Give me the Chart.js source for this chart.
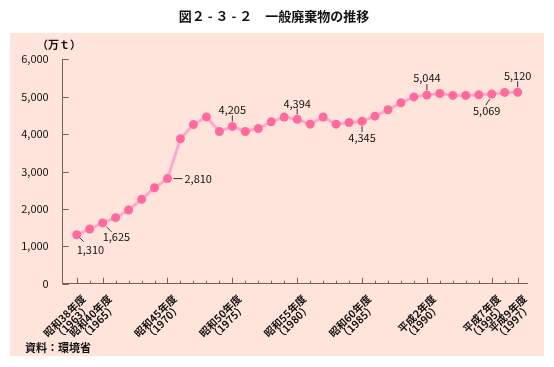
<!DOCTYPE html>
<html lang="ja">
<head>
<meta charset="utf-8">
<script src="https://cdn.jsdelivr.net/npm/chart.js@4.4.1/dist/chart.umd.min.js"></script>
<style>
  html, body { margin: 0; padding: 0; background: #ffffff; }
  #wrap { width: 554px; height: 367px; position: relative; }
</style>
</head>
<body>
<div id="wrap"><canvas id="chart"></canvas></div>
<script>
// 年度 (1963〜1997)
const years = [
  1963, 1964, 1965, 1966, 1967, 1968, 1969, 1970, 1971, 1972, 1973, 1974,
  1975, 1976, 1977, 1978, 1979, 1980, 1981, 1982, 1983, 1984, 1985, 1986,
  1987, 1988, 1989, 1990, 1991, 1992, 1993, 1994, 1995, 1996, 1997
];
// 一般廃棄物排出量 (万t)
const wasteValues = [
  1310, 1460, 1625, 1765, 1970, 2255, 2565, 2810, 3875, 4255, 4460, 4070,
  4205, 4070, 4150, 4330, 4455, 4394, 4265, 4455, 4265, 4310, 4345, 4480,
  4650, 4835, 4995, 5044, 5085, 5035, 5035, 5050, 5069, 5115, 5120
];
// x軸ラベル
const labelYears = [1963, 1965, 1970, 1975, 1980, 1985, 1990, 1995, 1997];
const eraLabels = ['昭和38年度', '昭和40年度', '昭和45年度', '昭和50年度', '昭和55年度',
  '昭和60年度', '平成2年度', '平成7年度', '平成9年度'];
// y軸目盛
const yTicks = [0, 1000, 2000, 3000, 4000, 5000, 6000];
// 数値を表示する年度
const calloutYears = [1963, 1965, 1970, 1975, 1980, 1985, 1990, 1995, 1997];

const FONT = '"Noto Sans CJK JP", "Noto Sans", sans-serif';
const AXIS_COLOR = '#6a6460';

// 吹き出しの位置 (点からの相対位置)
const calloutPlacement = {
  1963: { line: [3, 3, 7, 7], text: [0, 15], align: 'left' },
  1965: { line: [4, 4, 9, 9], text: [0, 14], align: 'left' },
  1970: { line: [6, 0, 15, 0], text: [17, 0], align: 'left' },
  1975: { line: [0, -5, 0, -11], text: [0, -17], align: 'center' },
  1980: { line: [0, -5, 0, -11], text: [0, -16], align: 'center' },
  1985: { line: [0, 5, 0, 11], text: [0, 17], align: 'center' },
  1990: { line: [0, -5, 0, -11], text: [0, -17], align: 'center' },
  1995: { line: [-2, 5, -6, 11], text: [-5, 17], align: 'center' },
  1997: { line: [0, -5, 0, -11], text: [0, -16.5], align: 'center' }
};

function fmt(v) {
  return v.toLocaleString('en-US');
}

// 背景・タイトル・出典などの描画
const decorPlugin = {
  id: 'decor',
  beforeDraw(chart) {
    const ctx = chart.ctx;
    ctx.save();
    ctx.fillStyle = '#ffe4dc';
    ctx.fillRect(10, 33, 534, 323);

    ctx.fillStyle = '#111';
    ctx.textBaseline = 'middle';
    ctx.textAlign = 'center';
    ctx.font = 'bold 13px ' + FONT;
    ctx.fillText('図２ - ３ - ２　一般廃棄物の推移', 274, 16);

    ctx.textAlign = 'left';
    ctx.font = 'bold 11px ' + FONT;
    ctx.fillText('（万ｔ）', 37, 45);
    ctx.fillText('資料：環境省', 25, 348);
    ctx.restore();
  },
  afterDraw(chart) {
    const ctx = chart.ctx;
    const xs = chart.scales.x;
    const ys = chart.scales.y;
    const area = chart.chartArea;
    ctx.save();
    ctx.strokeStyle = AXIS_COLOR;
    ctx.lineWidth = 1;
    // y軸目盛 (内向き)
    yTicks.forEach(v => {
      const y = Math.round(ys.getPixelForValue(v)) + 0.5;
      ctx.beginPath();
      ctx.moveTo(area.left, y);
      ctx.lineTo(area.left + 6, y);
      ctx.stroke();
    });
    // x軸目盛 (内向き)
    years.forEach(yr => {
      const x = Math.round(xs.getPixelForValue(yr)) + 0.5;
      const len = labelYears.includes(yr) ? 6 : 3;
      ctx.beginPath();
      ctx.moveTo(x, area.bottom);
      ctx.lineTo(x, area.bottom - len);
      ctx.stroke();
    });

    // x軸ラベル (45度回転・2行)
    ctx.fillStyle = '#111';
    ctx.font = 'bold 10.5px ' + FONT;
    ctx.textAlign = 'right';
    ctx.textBaseline = 'middle';
    labelYears.forEach((yr, k) => {
      const x = xs.getPixelForValue(yr);
      ctx.save();
      ctx.translate(x + 7, area.bottom + 13);
      ctx.rotate(-Math.PI / 4);
      ctx.fillText(eraLabels[k], 0, 0);
      ctx.fillText('（' + yr + '）', -3, 9.5);
      ctx.restore();
    });

    // 数値の吹き出し
    const meta = chart.getDatasetMeta(0);
    ctx.strokeStyle = '#333';
    ctx.fillStyle = '#111';
    ctx.font = '11px ' + FONT;
    ctx.textBaseline = 'middle';
    calloutYears.forEach(yr => {
      const i = years.indexOf(yr);
      const pt = meta.data[i];
      const p = calloutPlacement[yr];
      ctx.beginPath();
      ctx.moveTo(pt.x + p.line[0], pt.y + p.line[1]);
      ctx.lineTo(pt.x + p.line[2], pt.y + p.line[3]);
      ctx.stroke();
      ctx.textAlign = p.align;
      ctx.fillText(fmt(wasteValues[i]), pt.x + p.text[0], pt.y + p.text[1]);
    });
    ctx.restore();
  }
};

new Chart(document.getElementById('chart'), {
  type: 'line',
  data: {
    datasets: [{
      data: years.map((yr, i) => ({ x: yr, y: wasteValues[i] })),
      borderColor: '#ffa8ca',
      borderWidth: 3,
      backgroundColor: '#ff6a9e',
      pointBackgroundColor: '#ff6a9e',
      pointBorderWidth: 0,
      pointRadius: 4.5,
      tension: 0,
      fill: false
    }]
  },
  options: {
    responsive: true,
    maintainAspectRatio: false,
    animation: false,
    layout: {
      padding: { left: 10, right: 27, top: 59.3, bottom: 0 }
    },
    plugins: {
      legend: { display: false },
      tooltip: { enabled: false }
    },
    scales: {
      x: {
        type: 'linear',
        min: 1961.92,
        max: 1997.72,
        afterBuildTicks: scale => {
          scale.ticks = labelYears.map(v => ({ value: v }));
        },
        afterFit: scale => { scale.height = 83.3; },
        grid: { display: false },
        border: { display: true, color: AXIS_COLOR, width: 1 },
        ticks: { display: false }
      },
      y: {
        min: 0,
        max: 6000,
        afterBuildTicks: scale => {
          scale.ticks = yTicks.map(v => ({ value: v }));
        },
        afterFit: scale => { scale.width = 52.7; },
        grid: { display: false },
        border: { display: true, color: AXIS_COLOR, width: 1 },
        ticks: {
          padding: 6,
          color: '#111',
          font: { family: FONT, size: 11 },
          callback: v => fmt(v)
        }
      }
    }
  },
  plugins: [decorPlugin]
});
</script>
</body>
</html>
